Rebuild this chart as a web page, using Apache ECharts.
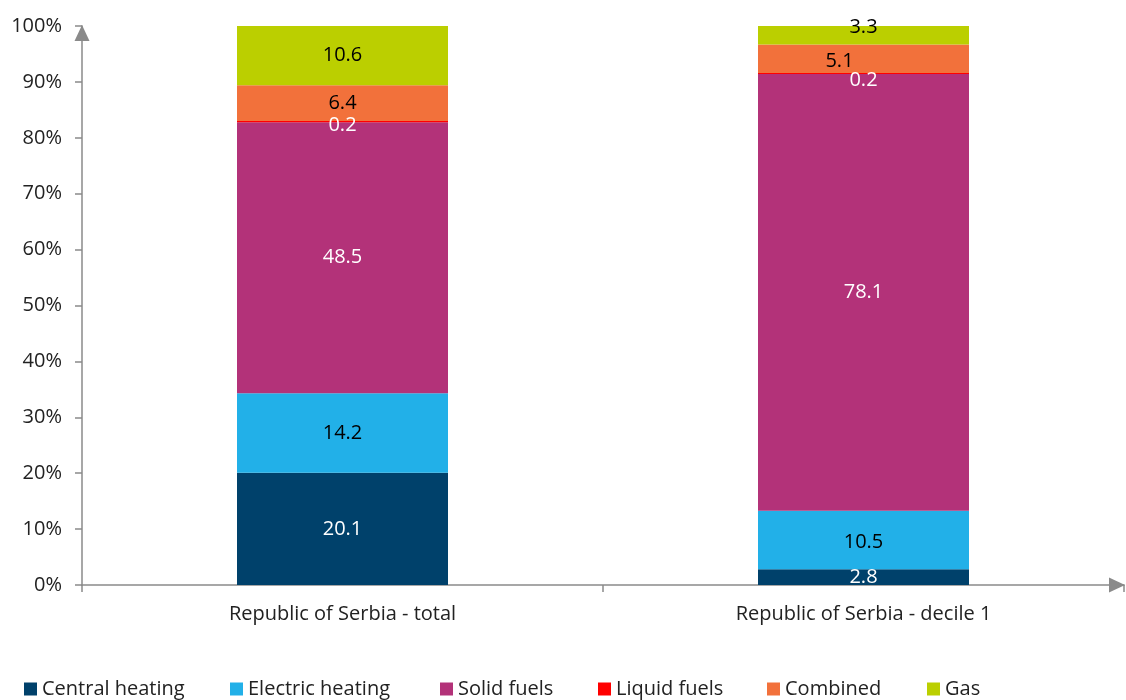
<!DOCTYPE html>
<html>
<head>
<meta charset="utf-8">
<script src="https://cdn.jsdelivr.net/npm/echarts@6/dist/echarts.min.js"></script>
<style>
    html, body { margin: 0; padding: 0; background: #fff; }
    #chart { width: 1126px; height: 700px; }
</style>
</head>
<body>
<div id="chart"></div>
<script>
const categories = ['Republic of Serbia - total', 'Republic of Serbia - decile 1']
const seriesNames = ['Central heating', 'Electric heating', 'Solid fuels', 'Liquid fuels', 'Combined', 'Gas']
const centralHeating = [20.1, 2.8]
const electricHeating = [14.2, 10.5]
const solidFuels = [48.5, 78.1]
const liquidFuels = [0.2, 0.2]
const combined = [6.4, 5.1]
const gas = [10.6, 3.3]
const yMin = 0
const yMax = 100
const yStep = 10

const seriesValues = [centralHeating, electricHeating, solidFuels, liquidFuels, combined, gas]
const colors = ['#00416b', '#22b0e8', '#b33279', '#ff0000', '#f2713b', '#bbcf00']
const labelColors = ['#fff', '#000', '#fff', '#fff', '#000', '#000']
// label nudges, like the spreadsheet's own label placement (per series, per bar)
const labelOffsets = [
    [[0, 0], [0, 0]],
    [[0, 0], [0, 2]],
    [[0, 0], [0, 0]],
    [[0, 4], [0, 7]],
    [[0, 0], [-24, 3]],
    [[0, 0], [0, -8]]
]
const legendLefts = [24, 230, 440, 598, 767, 927]

const font = '"Open Sans", sans-serif'
const axisGray = '#8a8a8a'

const chart = echarts.init(document.getElementById('chart'))

chart.setOption({
    animation: false,
    textStyle: { fontFamily: font },
    grid: {
        left: 82,
        right: 2,
        top: 26,
        bottom: 115,
        containLabel: false,
        outerBoundsMode: 'none'
    },
    legend: seriesNames.map((name, i) => ({
        data: [name],
        left: legendLefts[i],
        top: 679,
        padding: 0,
        itemWidth: 13,
        itemHeight: 13,
        itemGap: 0,
        icon: 'rect',
        selectedMode: false,
        textStyle: { fontFamily: font, fontSize: 20, color: '#222' }
    })),
    xAxis: {
        type: 'category',
        data: categories,
        boundaryGap: true,
        axisLine: {
            lineStyle: { color: axisGray, width: 1.5 },
            symbol: ['none', 'triangle'],
            symbolSize: [15, 16],
            symbolOffset: [0, -7]
        },
        axisTick: { show: true, length: 7, lineStyle: { color: axisGray, width: 1.5 } },
        axisLabel: { color: '#222', fontSize: 20, margin: 19, fontFamily: font },
        splitLine: { show: false }
    },
    yAxis: {
        type: 'value',
        min: yMin,
        max: yMax,
        interval: yStep,
        axisLine: {
            show: true,
            lineStyle: { color: axisGray, width: 1.5 },
            symbol: ['none', 'triangle'],
            symbolSize: [15, 16],
            symbolOffset: [0, -7]
        },
        axisTick: { show: true, length: 7, lineStyle: { color: axisGray, width: 1.5 } },
        axisLabel: { color: '#222', fontSize: 20, margin: 20, formatter: '{value}%', fontFamily: font },
        splitLine: { show: false }
    },
    series: seriesNames.map((name, i) => ({
        name: name,
        type: 'bar',
        stack: 'total',
        barWidth: 211,
        data: seriesValues[i].map((v, j) => ({
            value: v,
            label: { offset: labelOffsets[i][j] }
        })),
        itemStyle: { color: colors[i] },
        label: {
            show: true,
            position: 'inside',
            color: labelColors[i],
            fontSize: 20,
            fontFamily: font,
            textBorderWidth: 0,
            formatter: p => p.value.toFixed(1)
        }
    }))
})
</script>
</body>
</html>
